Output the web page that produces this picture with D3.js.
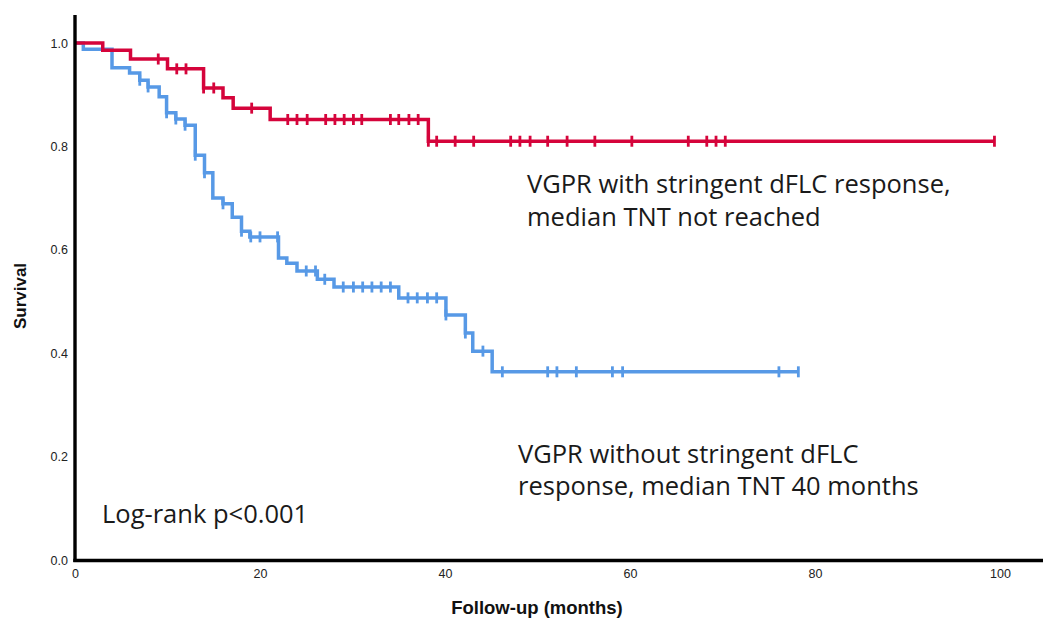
<!DOCTYPE html>
<html>
<head>
<meta charset="utf-8">
<script src="https://cdn.jsdelivr.net/npm/d3@7"></script>
<style>
  html, body { margin: 0; padding: 0; background: #fff; }
  svg { display: block; }
</style>
</head>
<body>
<script>
// Kaplan–Meier step data (time in months, survival after each step)
const stringentTimes = [0, 3.0, 6.0, 10.0, 13.9, 16.0, 17.1, 21.1, 38.2];
const stringentSurv  = [1.0, 0.986, 0.969, 0.950, 0.913, 0.894, 0.874, 0.852, 0.810];
const stringentCensored = [9.0, 11.0, 12.0, 13.9, 15.0, 19.1, 23.0, 24.0, 25.1, 27.1, 28.1, 29.1,
  30.1, 31.0, 34.1, 35.0, 36.1, 37.1, 38.2, 39.1, 41.1, 43.1, 47.1, 48.1, 49.2, 51.1, 53.2,
  56.2, 60.2, 66.3, 68.3, 69.3, 70.3, 99.4];

const otherTimes = [0, 0.9, 4.0, 5.9, 7.0, 7.9, 9.1, 9.9, 10.9, 11.9, 13.0, 14.0, 14.9, 16.0,
  17.0, 18.0, 18.9, 22.0, 22.9, 24.0, 26.2, 28.0, 35.0, 40.1, 42.2, 43.0, 45.1];
const otherSurv = [1.0, 0.988, 0.952, 0.942, 0.928, 0.915, 0.896, 0.865, 0.853, 0.841, 0.783,
  0.749, 0.700, 0.689, 0.663, 0.636, 0.625, 0.584, 0.574, 0.559, 0.543, 0.528, 0.507, 0.474,
  0.439, 0.404, 0.364];
const otherCensored = [7.0, 7.9, 9.9, 10.9, 11.9, 13.0, 14.0, 16.0, 18.0, 19.0, 20.0, 21.9, 25.0,
  26.0, 27.0, 29.0, 30.1, 31.1, 32.1, 33.1, 34.1, 36.0, 37.0, 38.1, 39.1, 40.1, 42.2, 44.1,
  46.2, 51.1, 52.1, 54.2, 58.1, 59.2, 76.1, 78.2];

const xTicks = [0, 20, 40, 60, 80, 100];
const yTicks = [0.0, 0.2, 0.4, 0.6, 0.8, 1.0];

const stringentLabel = ["VGPR with stringent dFLC response,", "median TNT not reached"];
const otherLabel = ["VGPR without stringent dFLC", "response, median TNT 40 months"];
const testLabel = "Log-rank p<0.001";

const W = 1043, H = 623;
const svg = d3.select("body").append("svg").attr("width", W).attr("height", H);

const x = d3.scaleLinear().domain([0, 100]).range([75, 1000]);
const y = d3.scaleLinear().domain([0, 1]).range([560, 43]);

const RED = "#d5043b", BLUE = "#5799e6";

function series(times, surv, censored) {
  const steps = times.map((t, i) => ({ t, s: surv[i] }));
  const end = d3.max(censored);
  const pts = steps.concat([{ t: end, s: surv[surv.length - 1] }]);
  const bis = d3.bisector(d => d.t).right;
  const marks = censored.map(t => ({ t, s: steps[bis(steps, t + 1e-9) - 1].s }));
  return { pts, marks };
}

function drawCurve(data, color) {
  const g = svg.append("g");
  g.append("path")
    .datum(data.pts)
    .attr("fill", "none")
    .attr("stroke", color)
    .attr("stroke-width", 3.5)
    .attr("d", d3.line().x(d => x(d.t)).y(d => y(d.s)).curve(d3.curveStepAfter));
  g.selectAll("line.cens")
    .data(data.marks)
    .join("line")
    .attr("class", "cens")
    .attr("x1", d => x(d.t)).attr("x2", d => x(d.t))
    .attr("y1", d => y(d.s) - 5.5).attr("y2", d => y(d.s) + 5.5)
    .attr("stroke", color)
    .attr("stroke-width", 2.8);
}

drawCurve(series(otherTimes, otherSurv, otherCensored), BLUE);
drawCurve(series(stringentTimes, stringentSurv, stringentCensored), RED);

// Axes
const xAxis = d3.axisBottom(x).tickValues(xTicks).tickSize(0).tickPadding(9)
  .tickFormat(d3.format("d"));
const gx = svg.append("g").attr("transform", "translate(0,560)").call(xAxis);
gx.select(".domain").remove();
gx.selectAll("text")
  .attr("font-family", "'Liberation Sans Narrow', 'Liberation Sans', Arial, sans-serif")
  .attr("font-size", 12.5).attr("fill", "#222");

const yAxis = d3.axisLeft(y).tickValues(yTicks).tickSize(0).tickPadding(7)
  .tickFormat(d3.format(".1f"));
const gy = svg.append("g").attr("transform", "translate(75,0)").call(yAxis);
gy.select(".domain").remove();
gy.selectAll("text")
  .attr("font-family", "'Liberation Sans', Arial, sans-serif")
  .attr("font-size", 12.5).attr("fill", "#222");

svg.append("line").attr("x1", 75).attr("x2", 75).attr("y1", 15).attr("y2", 562)
  .attr("stroke", "#000").attr("stroke-width", 3.4);
svg.append("line").attr("x1", 73.3).attr("x2", W).attr("y1", 560.5).attr("y2", 560.5)
  .attr("stroke", "#000").attr("stroke-width", 3.4);

// Axis titles
svg.append("text")
  .attr("x", 537).attr("y", 614)
  .attr("text-anchor", "middle")
  .attr("font-family", "'Liberation Sans', Arial, sans-serif")
  .attr("font-weight", "bold").attr("font-size", 18.5).attr("fill", "#111")
  .text("Follow-up (months)");

svg.append("text")
  .attr("transform", "translate(26,296) rotate(-90)")
  .attr("text-anchor", "middle")
  .attr("font-family", "'Liberation Sans', Arial, sans-serif")
  .attr("font-weight", "bold").attr("font-size", 17).attr("fill", "#111")
  .text("Survival");

// Annotations
const annoFont = "'Open Sans', sans-serif";
function block(lines, x0, y0, dy) {
  const t = svg.append("text")
    .attr("font-family", annoFont).attr("font-size", 25.5).attr("fill", "#1a1a1a");
  lines.forEach((l, i) => t.append("tspan").attr("x", x0).attr("y", y0 + i * dy).text(l));
}
block(stringentLabel, 527, 193, 33);
block(otherLabel, 518, 463, 32);
block([testLabel], 102, 523, 0);
</script>
</body>
</html>
